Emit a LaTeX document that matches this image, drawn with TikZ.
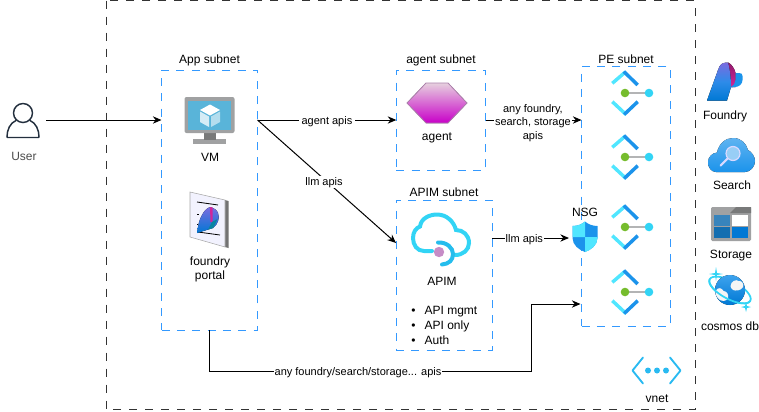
\documentclass[tikz,border=0pt]{standalone}
\usepackage{fontspec}
\setmainfont{Liberation Sans}
\usetikzlibrary{arrows.meta,calc,positioning,shapes.geometric}
\definecolor{NetBlue}{HTML}{3399FF}
\definecolor{Cyan}{HTML}{50E6FF}
\definecolor{Azure}{HTML}{1B93EB}
\definecolor{AzureDark}{HTML}{0078D4}
\definecolor{Sky}{HTML}{32D4F5}
\definecolor{ScreenBlue}{HTML}{59B4D9}
\definecolor{Frame}{HTML}{A0A1A2}
\definecolor{Leaf}{HTML}{76BC2D}
\definecolor{Ink}{HTML}{232F3E}
\definecolor{Orchid}{HTML}{C800C8}
\definecolor{Lilac}{HTML}{E6D0DE}
\definecolor{Pink}{HTML}{D1259A}
\definecolor{Iris}{HTML}{7A6BE0}
\tikzset{
  txt/.style={font=\fontsize{9}{10.5}\selectfont,inner sep=0pt,align=center},
  edgelbl/.style={font=\fontsize{8.25}{10}\selectfont,inner sep=0.5pt,align=center,fill=white,yshift=-1.5pt},
  subnet/.style={draw=NetBlue,dash pattern=on 6pt off 5.5pt,line width=0.75pt,inner sep=0pt,outer sep=0pt},
  conn/.style={-{Stealth[length=6.5pt,width=5.5pt]},line width=0.75pt,black},
  foundry mark/.pic={
    \fill[top color=Pink!70!black,bottom color=Pink] (3,-19.5) .. controls (7,-18) and (10,-12) .. (10.5,-9) -- (10.5,5) -- (5,5) -- cycle;
    \fill[top color=Iris,bottom color=AzureDark,middle color=Azure!80!Iris] (-18,18.5) -- (-7,-12) .. controls (-5,-18) and (-3,-19.5) .. (3,-19.5) .. controls (5,-12) and (6,-4) .. (6,5) -- (2,18.5) -- cycle;
    \fill[Azure] (10.5,-9) -- (14,-9) .. controls (16.5,-9) and (17.5,-8) .. (17.5,-6) -- (17.5,-2) .. controls (17.5,2) and (14,5) .. (10,5) -- (5.5,5.5) .. controls (8.5,4) and (10.5,1) .. (10.5,-2) -- cycle;
  },
  pe icon/.pic={
    \draw[Cyan,line width=2.6pt] (-12.7,-9.7) -- (0,-20.7);
    \draw[Azure,line width=2.6pt] (-1.2,-21.5) -- (12.7,-8);
    \draw[Cyan,line width=2.6pt] (-12.7,8.7) -- (1,21.5);
    \draw[Azure,line width=2.6pt] (-0.8,21.5) -- (12.7,8.7);
    \draw[Frame!80,line width=1.7pt] (0,0) -- (24,0);
    \fill[Leaf] (0,0) circle (4.3);
    \fill[Sky] (24,0) circle (4.3);
  }
}
\begin{document}
\begin{tikzpicture}[x=0.75pt,y=-0.75pt]
  \useasboundingbox (0,0) rectangle (759,411);
  \draw[draw=black!80,dash pattern=on 6pt off 6pt,line width=0.75pt] (106,0.5) rectangle (695,409.5);

  \node[subnet,minimum width=72pt,minimum height=195pt] (appsub) at (209.5,200) {};
  \node[subnet,minimum width=67pt,minimum height=75pt] (agentsub) at (441,120) {};
  \node[subnet,minimum width=72pt,minimum height=112.5pt] (apimsub) at (444,275) {};
  \node[subnet,minimum width=66.75pt,minimum height=194.6pt] (pesub) at (626,196.5) {};
  \node[txt,above=2.5pt of appsub] (apptitle) {App subnet};
  \node[txt,above=2.5pt of agentsub] (agenttitle) {agent subnet};
  \node[txt,above=2.5pt of apimsub] (apimtitle) {APIM subnet};
  \node[txt,above=2.5pt of pesub] (petitle) {PE subnet};

  % user
  \node[minimum width=33pt,minimum height=20pt,inner sep=0pt,outer sep=0pt] (user) at (24,120) {};
  \draw[Ink,line width=1.1pt] (23,113) circle (9.5);
  \draw[Ink,line width=1.1pt,rounded corners=0.5pt] (16,120.5) .. controls (10,123) and (7,130) .. (7,137.5) -- (39,137.5) .. controls (39,130) and (36,123) .. (30,120.5);
  \node[txt,text=black!70] (usertxt) at (24,156) {User};

  % vm
  \fill[Frame] (193,139) rectangle (226,144);
  \fill[Frame!75!black] (204,133) rectangle (216,140);
  \fill[Frame,rounded corners=1.5pt] (184.5,97) rectangle (234.5,133);
  \fill[ScreenBlue] (188,101) rectangle (231,130);
  \fill[white] (210,104.5) -- (220,110) -- (210,115.5) -- (200,110) -- cycle;
  \fill[white!75!ScreenBlue] (200,111.5) -- (209,116.5) -- (209,127) -- (200,122) -- cycle;
  \fill[white!55!ScreenBlue] (220,111.5) -- (211,116.5) -- (211,127) -- (220,122) -- cycle;
  \node[txt] (vm) at (210,157) {VM};

  % portal
  \fill[black!55] (225,200) -- (228.5,201) -- (228.5,248) -- (225,247) -- cycle;
  \fill[black!8!blue!5!white,draw=black!35,line width=0.4pt] (190,192) -- (225,200) -- (225,247) -- (190,237) -- cycle;
  \foreach \xa/\ya/\xb/\yb in {197/202/218/205,197/214/199/214,197/224/198/224,198/232/220/235}
    \draw[black,line width=0.6pt] (\xa,\ya) -- (\xb,\yb);
  \fill[top color=Iris,bottom color=AzureDark] (197,233) .. controls (198,226) and (199,220) .. (202,215) .. controls (204,211) and (207,208) .. (210,207) .. controls (214,208) and (217,210) .. (218,213) .. controls (220,218) and (218,224) .. (213,228) -- cycle;
  \fill[Pink] (210,207) -- (212.5,207.5) -- (212.5,222) -- (210.5,222) -- cycle;
  \fill[teal!70!Azure] (212,222) -- (217.5,219) -- (213,228) -- (208,229.5) -- cycle;
  \node[txt] (portal) at (210,269) {foundry\\portal};

  % agent
  \filldraw[draw=black!30!violet!50,line width=0.6pt,top color=Lilac,bottom color=Orchid] (407,103) -- (426,83) -- (448,83) -- (467,103) -- (448,123) -- (426,123) -- cycle;
  \node[txt] (agent) at (437,138) {agent};

  % apim
  \draw[Sky,line width=3pt,line cap=round] (432,251) -- (424,251) .. controls (417,251) and (413,245) .. (413,238) .. controls (413,232) and (416,228) .. (420,226.5) .. controls (421,218) and (430,214.5) .. (437,214.5) .. controls (447,214.5) and (454,222) .. (456,230) .. controls (463,230) and (469,235) .. (469,243) .. controls (469,250) and (463,255) .. (455,255);
  \draw[Sky!75!AzureDark,line width=3pt,line cap=round] (438,242.5) .. controls (447,242) and (453,248) .. (453,254) .. controls (453,260) and (449,264) .. (442,264.5);
  \fill[violet!45!white] (439,252) circle (5.2);
  \node[txt] (apim) at (442,281) {APIM};
  \node[txt,anchor=west,align=left,font=\fontsize{9}{11.25}\selectfont] (apimlist) at (411,325) {\makebox[10pt][l]{•}API mgmt\\\makebox[10pt][l]{•}API only\\\makebox[10pt][l]{•}Auth};

  % private endpoints
  \foreach \yy in {93,157,227,292}
    \pic at (625,\yy) {pe icon};

  % nsg
  \node[minimum width=24pt,minimum height=22pt,inner sep=0pt,outer sep=0pt] (nsg) at (585,238) {};
  \fill[Azure] (572.5,226) .. controls (578,226) and (582,224) .. (585,221.5) .. controls (588,224) and (592,226) .. (597.5,226) -- (597.5,238) .. controls (597.5,245) and (591,250) .. (585,252) .. controls (579,250) and (572.5,245) .. (572.5,238) -- cycle;
  \fill[Cyan] (572.5,226) .. controls (578,226) and (582,224) .. (585,221.5) -- (585,237) -- (572.5,237) -- cycle;
  \fill[Cyan] (585,237) -- (597.5,237) -- (597.5,238) .. controls (597.5,245) and (591,250) .. (585,252) -- cycle;
  \node[txt] (nsgtxt) at (585,212) {NSG};

  % services
  \pic at (725,82) {foundry mark};
  \node[txt] (foundry) at (725,116) {Foundry};

  \fill[top color=Azure!70!white,bottom color=Azure] (716,172) .. controls (711,172) and (708,167) .. (708,162.5) .. controls (708,157) and (712,153) .. (717,152.5) .. controls (719,143) and (726,138) .. (733,138) .. controls (741,138) and (746,143) .. (748,150) .. controls (752,152) and (755,157) .. (755,161) .. controls (755,167) and (750,172) .. (745,172) -- cycle;
  \draw[white!85!blue,line width=1.6pt,line cap=round] (727.5,158.5) -- (720.5,165.5);
  \draw[white!85!blue,fill=Azure!45!white,line width=0.9pt] (733,153.5) circle (7);
  \node[txt] (search) at (732,185.5) {Search};

  \fill[Frame,rounded corners=1pt] (711,207) rectangle (751,241);
  \fill[Frame!75!black] (736,207) -- (751,207) -- (751,213) -- (730,213) -- cycle;
  \fill[Azure!75!black!85] (714,215) rectangle (730,226);
  \fill[white] (732,215) rectangle (748,226);
  \fill[Azure!75!black] (714,227) rectangle (730,238);
  \fill[AzureDark] (732,227) rectangle (748,238);
  \node[txt] (storage) at (731,256) {Storage};

  \draw[Sky,line width=1.3pt,rotate around={-28:(730,290)}] (730,290) ellipse (23 and 9);
  \fill[top color=Azure!85!white,bottom color=AzureDark] (730,290) circle (15);
  \fill[black!4] (715.5,291) .. controls (718,286.5) and (722,288) .. (723.5,291) .. controls (727,291) and (729,295) .. (728,298) .. controls (726,302) and (722,301) .. (720,300) .. controls (717,298) and (715,294) .. (715.5,291) -- cycle;
  \fill[black!4] (730.5,286) .. controls (731,281) and (736,279) .. (738.5,281) .. controls (742,280.5) and (744,284) .. (743,287) .. controls (741,291) and (735,291) .. (733,290) .. controls (731.5,289) and (730.5,287.5) .. (730.5,286) -- cycle;
  \draw[Sky,line width=1.3pt,rotate around={-28:(730,290)}] (753,290) arc[start angle=0,end angle=180,x radius=23,y radius=9];
  \foreach \xx/\yy/\rr in {716/274/7,746/307/5}
    \fill[Sky] (\xx-\rr,\yy) -- (\xx-1,\yy-1) -- (\xx,\yy-\rr) -- (\xx+1,\yy-1) -- (\xx+\rr,\yy) -- (\xx+1,\yy+1) -- (\xx,\yy+\rr) -- (\xx-1,\yy+1) -- cycle;
  \node[txt] (cosmos) at (730,326) {cosmos db};

  % vnet
  \draw[Azure!40!Sky,line width=1.4pt,line cap=round,line join=round] (643,357.5) -- (632.5,370.5) -- (643,383.5);
  \draw[Azure!40!Sky,line width=1.4pt,line cap=round,line join=round] (670,357.5) -- (680.5,370.5) -- (670,383.5);
  \foreach \xx in {648,657,666}
    \fill[Azure!40!Sky] (\xx,370.5) circle (3);
  \node[txt] (vnet) at (657,399) {vnet};

  % connectors
  \coordinate (appout) at (appsub.east |- agentsub.west);
  \coordinate (apimin) at (396,243);
  \coordinate (pein) at (pesub.west |- agentsub.west);
  \coordinate (apimout) at (apimsub.east |- nsg);
  \coordinate (pelow) at ($(pesub.west |- 0,304)+(-1,0)$);

  \draw[conn] (user.east) -- (user.east -| appsub.west);
  \draw[conn] (appout) -- (agentsub.west) node[edgelbl,midway,inner xsep=2pt] (agentapis) {agent apis};
  \draw[conn] (appout) -- (apimin) node[edgelbl,pos=0.49,xshift=-1pt] (llmapis) {llm apis};
  \draw[conn] (agentsub.east) -- (pein) node[edgelbl,midway,xshift=-0.5pt,yshift=-0.7pt] (anyapis) {any foundry,\\search, storage\\apis};
  \draw[conn] (apimout) -- (nsg.west) node[edgelbl,pos=0.42] (nsgapis) {llm apis};
  \draw[conn] (appsub.south) |- (531,371) |- (pelow) ;
  \node[edgelbl] (bypass) at (358,371) {any foundry/search/storage... apis};
\end{tikzpicture}
\end{document}
